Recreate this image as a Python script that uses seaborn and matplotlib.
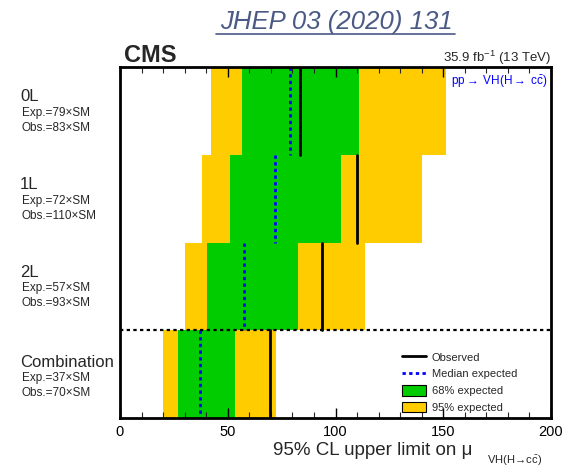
import numpy as np
import pandas as pd
import matplotlib
matplotlib.use("Agg")
import matplotlib.pyplot as plt
import seaborn as sns
from matplotlib.lines import Line2D
from matplotlib.patches import Patch

channels = ["0L", "1L", "2L", "Combination"]
exp_text = ["79", "72", "57", "37"]
obs_text = ["83", "110", "93", "70"]
lo95 = [42, 38, 30, 20]
lo68 = [56.5, 51, 40.5, 26.7]
median = [79, 72, 57.5, 37.2]
hi68 = [111, 102.5, 82.5, 53.4]
hi95 = [151.5, 140, 113.5, 72.6]
observed = [83.5, 110, 93.6, 69.8]

GREEN = "#00cc00"
YELLOW = "#ffcc00"

sns.set_theme(style="ticks")
plt.rcParams["font.family"] = ["Liberation Sans", "DejaVu Sans"]
plt.rcParams["mathtext.fontset"] = "custom"
plt.rcParams["mathtext.rm"] = "Liberation Sans"
plt.rcParams["mathtext.it"] = "Liberation Sans:italic"
plt.rcParams["mathtext.bf"] = "Liberation Sans:bold"

df = pd.DataFrame({"channel": channels, "lo95": lo95, "lo68": lo68,
                   "hi68": hi68, "hi95": hi95})

fig = plt.figure(figsize=(5.64, 4.69), dpi=100)
ax = fig.add_axes([120/564, 1-418/469, (551-120)/564, (418-67)/469])

# layered bands: yellow to hi95, green to hi68, yellow to lo68, white to lo95
for col, c in [("hi95", YELLOW), ("hi68", GREEN), ("lo68", YELLOW), ("lo95", "white")]:
    sns.barplot(data=df, y="channel", x=col, order=channels, color=c,
                width=1.0, linewidth=0, edgecolor="none", saturation=1,
                ax=ax, zorder=1)

for i in range(len(channels)):
    ax.plot([observed[i]]*2, [i-0.5, i+0.5], color="black", lw=2.0, zorder=3)
    ax.plot([median[i]]*2, [i-0.5, i+0.5], color="#0000ff", lw=2.0,
            ls=(0, (1.2, 1.2)), zorder=3)

ax.axhline(2.5, color="black", lw=1.6, ls=(0, (1.5, 1.5)), zorder=4)

ax.set_axisbelow(False)
ax.set_xlim(0, 200)
ax.set_ylim(3.5, -0.5)
ax.set_yticks([])
ax.set_ylabel("")
ax.set_xlabel("")
ax.set_xticks([0, 50, 100, 150, 200])
ax.set_xticks(np.arange(0, 201, 10), minor=True)
ax.tick_params(axis="x", which="major", direction="in", length=7, width=1,
               top=True, bottom=True, labelsize=10.5, pad=5, colors="black")
ax.tick_params(axis="x", which="minor", direction="in", length=4, width=0.8,
               top=True, bottom=True)
for s in ax.spines.values():
    s.set_visible(True)
    s.set_linewidth(2)
    s.set_color("black")
    s.set_zorder(5)

fig.text(472/564, 1-455/469, "95% CL upper limit on \u03bc", fontsize=13.5,
         ha="right", va="baseline")
fig.text(487/564, 1-464/469, r"VH(H$\!\rightarrow\!$c$\bar{\mathrm{c}}$)",
         fontsize=8, ha="left", va="baseline")

# row labels
row_h = (418-67)/4
for i, ch in enumerate(channels):
    yc = 67 + row_h*(i+0.5)
    off = -14 if i < 3 else -12
    fig.text(20/564, 1-(yc+off)/469, ch, fontsize=12, va="center", ha="left")
    fig.text(22/564, 1-(yc+off+16)/469, f"Exp.={exp_text[i]}\u00d7SM",
             fontsize=8.5, va="center", ha="left")
    fig.text(22/564, 1-(yc+off+31)/469, f"Obs.={obs_text[i]}\u00d7SM",
             fontsize=8.5, va="center", ha="left")

fig.text(124/564, 1-62/469, "CMS", fontsize=17, fontweight="bold",
         va="baseline", ha="left")
fig.text(551/564, 1-62/469, r"35.9 fb$^{-1}$ (13 TeV)", fontsize=9.5,
         va="baseline", ha="right")
fig.text(548/564, 1-82/469, r"pp$\rightarrow$ VH(H$\rightarrow$ c$\bar{\mathrm{c}}$)",
         fontsize=8.5, color="#0000ff", va="center", ha="right")

fig.text(336/564, 1-29/469, "JHEP 03 (2020) 131", fontsize=18.5,
         style="italic", color="#4a5a85", va="baseline", ha="center")
fig.lines.append(Line2D([216/564, 455/564], [1-34/469]*2, color="#4a5a85",
                        lw=1.2, transform=fig.transFigure))

handles = [Line2D([], [], color="black", lw=2),
           Line2D([], [], color="#0000ff", lw=2, ls=(0, (1.2, 1.2))),
           Patch(facecolor=GREEN, edgecolor="black", lw=0.8),
           Patch(facecolor=YELLOW, edgecolor="black", lw=0.8)]
labels = ["Observed", "Median expected", "68% expected", "95% expected"]
leg = ax.legend(handles, labels, loc="upper left",
                bbox_to_anchor=(396/564, 1-346/469), bbox_transform=fig.transFigure,
                frameon=False, fontsize=8, handlelength=2.2, handleheight=1.1,
                labelspacing=0.5, handletextpad=0.5, borderpad=0)

fig.savefig("out.png", dpi=100)
